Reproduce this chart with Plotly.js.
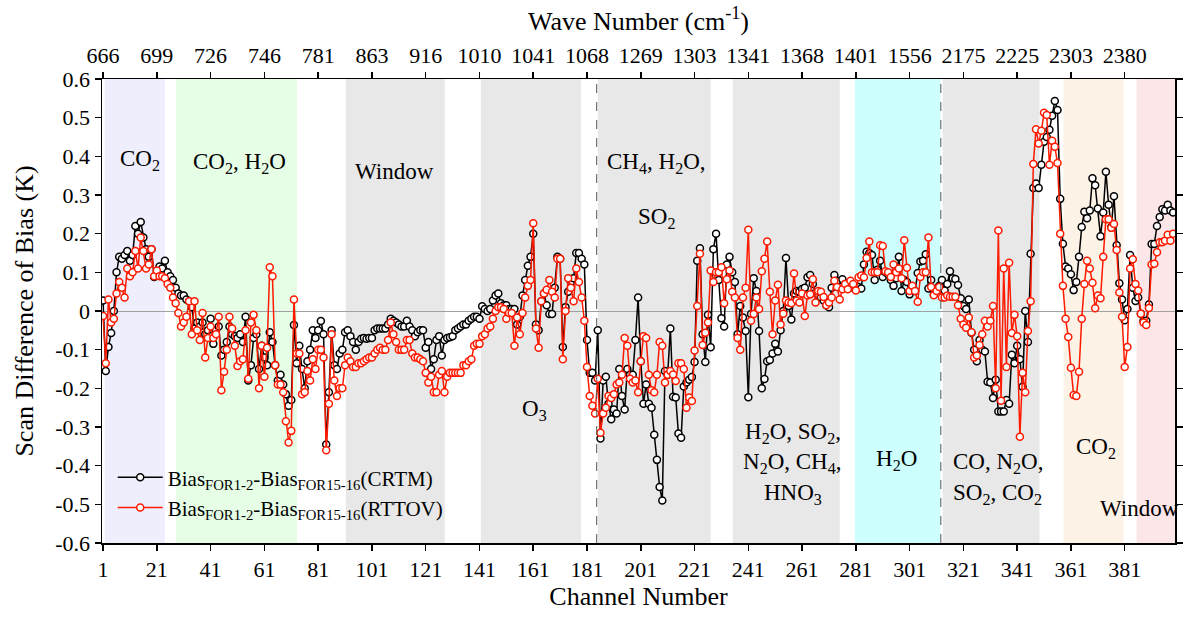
<!DOCTYPE html>
<html>
<head>
<meta charset="utf-8">
<script src="https://cdn.plot.ly/plotly-3.0.1.min.js"></script>
<style>
  html, body { margin: 0; padding: 0; background: #ffffff; }
  #chart { width: 1187px; height: 619px; }
</style>
</head>
<body>
<div id="chart"></div>
<script>
// Scan-angle bias difference per channel (K), FOR1-2 minus FOR15-16
const biasCRTM = [
  0.027,-0.155,-0.093,-0.057,0.0,0.10,0.14,0.135,0.145,0.155,
  0.13,0.145,0.22,0.2,0.23,0.19,0.16,0.14,0.16,0.088,
  0.10,0.115,0.11,0.13,0.1,0.09,0.08,0.06,0.045,0.04,
  0.04,0.03,0.025,0.01,-0.045,-0.03,-0.04,-0.03,-0.06,-0.05,
  -0.02,-0.085,-0.05,-0.04,-0.115,-0.1,-0.08,-0.04,-0.06,-0.065,
  -0.07,-0.06,-0.08,-0.015,-0.18,-0.14,-0.07,-0.06,-0.15,-0.09,
  -0.12,-0.14,-0.055,-0.08,-0.14,-0.18,-0.165,-0.19,-0.215,-0.245,
  -0.23,-0.036,-0.135,-0.09,-0.15,-0.2,-0.13,-0.1,-0.05,-0.07,
  -0.05,-0.026,-0.06,-0.345,-0.21,-0.05,-0.14,-0.15,-0.11,-0.1,
  -0.055,-0.05,-0.065,-0.08,-0.1,-0.08,-0.072,-0.07,-0.072,-0.07,
  -0.07,-0.05,-0.045,-0.045,-0.045,-0.045,-0.035,-0.02,-0.025,-0.03,
  -0.035,-0.04,-0.04,-0.025,-0.04,-0.05,-0.065,-0.055,-0.05,-0.05,
  -0.095,-0.08,-0.15,-0.125,-0.075,-0.065,-0.115,-0.075,-0.07,-0.068,
  -0.065,-0.05,-0.045,-0.04,-0.035,-0.035,-0.025,-0.02,-0.015,-0.015,
  -0.02,0.012,0.005,0.0,0.005,0.027,0.04,0.045,0.02,0.015,
  0.015,0.005,0.005,0.005,-0.035,-0.015,0.04,0.08,0.117,0.14,
  0.2,-0.035,-0.05,0.025,0.045,0.015,-0.008,-0.008,0.06,0.14,
  0.135,-0.093,0.01,0.05,0.075,0.085,0.15,0.15,0.135,0.12,
  -0.075,-0.16,-0.16,-0.18,-0.05,-0.33,-0.18,-0.17,-0.24,-0.28,
  -0.255,-0.265,-0.15,-0.22,-0.255,-0.15,-0.165,-0.165,-0.075,0.035,
  -0.13,-0.24,-0.19,-0.24,-0.25,-0.32,-0.385,-0.455,-0.49,-0.155,
  -0.165,-0.045,-0.222,-0.224,-0.317,-0.328,-0.195,-0.185,-0.178,-0.171,
  -0.132,0.13,0.162,-0.06,-0.132,-0.01,-0.094,0.16,0.2,0.08,
  -0.019,-0.04,0.12,0.14,0.1,0.075,-0.06,0.013,-0.017,-0.052,
  -0.223,-0.008,0.085,0.052,-0.052,-0.2,-0.176,-0.13,-0.127,-0.11,
  -0.085,-0.105,-0.05,0.0,0.137,0.013,-0.022,0.045,0.052,0.05,
  0.057,0.06,0.087,0.093,0.07,0.047,0.04,0.035,0.027,0.015,
  0.01,0.06,0.093,0.078,0.062,0.082,0.07,0.067,0.065,0.06,
  0.058,0.062,0.058,0.12,0.153,0.15,0.145,0.08,0.107,0.13,
  0.088,0.1,0.095,0.08,0.065,0.085,0.14,0.052,0.08,0.075,
  0.043,0.058,0.052,0.098,0.128,0.13,0.147,0.058,0.08,0.042,
  0.053,0.065,0.08,0.053,0.07,0.103,0.085,0.083,0.067,0.033,
  0.013,0.005,0.03,-0.056,-0.1,-0.13,-0.075,-0.1,-0.105,-0.183,
  -0.185,-0.225,-0.178,-0.26,-0.26,-0.26,-0.23,-0.24,-0.113,-0.135,
  -0.09,-0.125,-0.196,0.0,-0.08,0.148,0.318,0.33,0.318,0.378,
  0.438,0.45,0.469,0.505,0.543,0.52,0.29,0.174,0.115,0.11,
  0.095,0.054,0.075,0.14,0.217,0.257,0.24,0.26,0.343,0.325,
  0.265,0.193,0.255,0.36,0.275,0.217,0.297,0.17,0.072,0.03,
  -0.024,0.005,0.145,0.06,0.026,0.035,-0.007,-0.026,-0.025,0.017,
  0.173,0.173,0.22,0.243,0.263,0.26,0.275,0.26,0.255
];

const biasRTTOV = [
  -0.013,-0.135,0.03,-0.03,-0.02,0.045,0.075,0.06,0.035,0.11,
  0.09,0.10,0.155,0.11,0.19,0.155,0.11,0.12,0.16,0.09,
  0.105,0.09,0.09,0.085,0.07,0.06,0.035,0.02,-0.005,-0.04,
  -0.03,-0.015,0.025,-0.06,0.025,-0.05,-0.075,-0.005,-0.12,-0.07,
  -0.04,-0.07,-0.06,-0.015,-0.205,-0.157,-0.10,-0.015,-0.045,-0.09,
  -0.142,-0.13,-0.125,-0.05,-0.175,-0.03,-0.01,-0.05,-0.20,-0.09,
  -0.17,-0.095,0.113,0.09,-0.14,-0.19,-0.19,-0.21,-0.285,-0.34,
  -0.31,0.03,-0.11,-0.11,-0.215,-0.21,-0.155,-0.18,-0.125,-0.15,
  -0.1,-0.1,-0.12,-0.36,-0.24,-0.06,-0.18,-0.22,-0.2,-0.2,
  -0.14,-0.12,-0.13,-0.145,-0.145,-0.135,-0.135,-0.13,-0.125,-0.12,
  -0.12,-0.11,-0.1,-0.095,-0.1,-0.1,-0.075,-0.03,-0.06,-0.08,
  -0.1,-0.1,-0.1,-0.075,-0.075,-0.11,-0.12,-0.12,-0.125,-0.13,
  -0.16,-0.185,-0.17,-0.21,-0.21,-0.165,-0.155,-0.21,-0.17,-0.16,
  -0.16,-0.16,-0.16,-0.16,-0.14,-0.14,-0.13,-0.125,-0.09,-0.085,
  -0.085,-0.065,-0.06,-0.045,-0.04,-0.02,0.0,0.01,0.01,0.005,
  -0.02,-0.005,-0.005,-0.09,-0.017,-0.06,-0.005,0.035,0.065,0.08,
  0.227,-0.045,-0.095,0.025,0.045,0.055,0.08,0.05,0.035,0.135,
  0.135,-0.125,0.0,0.085,0.06,0.025,0.11,0.075,0.035,-0.025,
  -0.145,-0.22,-0.245,-0.265,-0.175,-0.315,-0.265,-0.25,-0.22,-0.225,
  -0.215,-0.19,-0.185,-0.165,-0.07,-0.09,-0.175,-0.185,-0.18,-0.21,
  -0.13,-0.065,-0.07,-0.165,-0.205,-0.21,-0.165,-0.08,-0.09,-0.185,
  -0.165,-0.155,-0.164,-0.181,-0.135,-0.135,-0.15,-0.25,-0.224,-0.233,
  -0.102,0.013,0.148,-0.088,-0.056,-0.03,0.105,0.075,0.1,0.1,
  0.113,0.02,0.082,0.105,0.05,0.035,-0.07,-0.1,0.035,0.06,
  0.21,-0.025,-0.008,0.035,0.005,0.103,0.135,0.18,0.05,-0.06,
  0.027,0.068,-0.035,-0.007,0.027,0.022,0.02,0.097,0.027,0.022,
  0.045,-0.013,0.04,0.043,0.082,0.022,0.052,0.05,0.036,0.015,
  0.022,0.035,0.078,0.062,0.03,0.056,0.07,0.056,0.078,0.07,
  0.053,0.087,0.092,0.087,0.137,0.18,0.1,0.1,0.1,0.17,
  0.168,0.103,0.1,0.088,0.12,0.1,0.11,0.085,0.183,0.112,
  0.052,0.065,0.052,0.024,0.088,0.1,0.1,0.19,0.062,0.041,
  0.052,0.062,0.035,0.035,0.04,0.037,0.037,0.037,0.015,-0.02,
  -0.035,-0.043,-0.017,-0.055,-0.12,-0.115,-0.088,-0.06,-0.025,-0.04,
  -0.025,0.013,-0.2,0.208,-0.232,0.11,-0.145,0.125,-0.057,-0.01,
  -0.065,-0.325,-0.16,-0.21,-0.052,0.025,0.38,0.47,0.433,0.466,
  0.513,0.507,0.378,0.44,0.425,0.383,0.2,0.065,-0.02,-0.067,
  -0.147,-0.217,-0.22,-0.157,-0.02,0.07,0.13,0.11,0.073,0.007,
  0.04,0.033,0.14,0.237,0.237,0.215,0.225,0.158,0.048,-0.015,
  -0.145,-0.093,0.11,0.134,0.07,0.053,-0.007,-0.03,-0.036,0.008,
  0.12,0.122,0.152,0.178,0.178,0.182,0.197,0.182,0.2
];

// channel index 1..N
const channels = biasCRTM.map((_, i) => i + 1);

// bottom axis ticks (channel number) and matching top axis labels (wave number, cm-1)
const channelTicks = [1, 21, 41, 61, 81, 101, 121, 141, 161, 181, 201, 221, 241, 261, 281, 301, 321, 341, 361, 381];
const waveNumberLabels = ['666', '699', '726', '746', '781', '863', '916', '1010', '1041', '1068',
                          '1269', '1303', '1341', '1368', '1401', '1556', '2175', '2225', '2303', '2380'];

const yTicks = [-0.6, -0.5, -0.4, -0.3, -0.2, -0.1, 0, 0.1, 0.2, 0.3, 0.4, 0.5, 0.6];
const yTickText = ['-0.6', '-0.5', '-0.4', '-0.3', '-0.2', '-0.1', '0', '0.1', '0.2', '0.3', '0.4', '0.5', '0.6'];

// absorber bands: start channel, end channel, fill colour
const bandStart = [1.6, 28.1, 91.3, 141.5, 185.0, 235.2, 280.6, 313.3, 358.2, 385.4];
const bandEnd   = [24.0, 73.1, 128.1, 178.8, 227.0, 275.0, 312.5, 349.3, 380.6, 400.0];
const bandFill  = ['#eeeefd', '#e6fde6', '#e8e8e8', '#e8e8e8', '#e8e8e8', '#e8e8e8',
                   '#ccfffe', '#e8e8e8', '#fdf2e6', '#fde6e8'];

// band dividers
const dividerChannels = [184.6, 312.6];

// band labels: channel, value, text
const labelX = [14.8, 51.9, 109.5, 161.6, 207, 207, 257.5, 257.5, 257.5, 296.2, 333.7, 333.7, 370.5, 386.5];
const labelY = [0.39, 0.383, 0.36, -0.256, 0.383, 0.24, -0.316, -0.394, -0.474, -0.386, -0.394, -0.472, -0.355, -0.51];
const labelText = ['CO<sub>2</sub>', 'CO<sub>2</sub>, H<sub>2</sub>O', 'Window', 'O<sub>3</sub>',
                   'CH<sub>4</sub>, H<sub>2</sub>O,', 'SO<sub>2</sub>',
                   'H<sub>2</sub>O, SO<sub>2</sub>,', 'N<sub>2</sub>O, CH<sub>4</sub>,', 'HNO<sub>3</sub>',
                   'H<sub>2</sub>O', 'CO, N<sub>2</sub>O,', 'SO<sub>2</sub>, CO<sub>2</sub>',
                   'CO<sub>2</sub>', 'Window'];

const serif = 'Liberation Serif, Times New Roman, serif';

const shapes = [];
for (let i = 0; i < bandStart.length; i++) {
  shapes.push({
    type: 'rect', xref: 'x', yref: 'paper', layer: 'below',
    x0: bandStart[i], x1: bandEnd[i], y0: 0, y1: 1,
    fillcolor: bandFill[i], line: { width: 0 }
  });
}
dividerChannels.forEach(c => shapes.push({
  type: 'line', xref: 'x', yref: 'paper', layer: 'above',
  x0: c, x1: c, y0: 0, y1: 1,
  line: { color: '#555555', width: 1, dash: 'dash' }
}));

const annotations = labelText.map((t, i) => ({
  x: labelX[i], y: labelY[i], xref: 'x', yref: 'y', text: t, showarrow: false,
  font: { family: serif, size: 23, color: '#000000' }
}));

const traces = [
  {
    x: channels, y: biasCRTM, type: 'scatter', mode: 'lines+markers',
    name: 'Bias<sub>FOR1-2</sub>-Bias<sub>FOR15-16</sub>(CRTM)',
    line: { color: '#000000', width: 1.5 },
    marker: { symbol: 'circle', size: 7, color: '#ffffff', line: { color: '#000000', width: 1.5 } }
  },
  {
    x: channels, y: biasRTTOV, type: 'scatter', mode: 'lines+markers',
    name: 'Bias<sub>FOR1-2</sub>-Bias<sub>FOR15-16</sub>(RTTOV)',
    line: { color: '#ff1a00', width: 1.5 },
    marker: { symbol: 'circle', size: 7, color: '#ffffff', line: { color: '#ff1a00', width: 1.5 } }
  },
  {
    // carries the top (wave number) axis
    x: [channelTicks[0]], y: [null], xaxis: 'x2', yaxis: 'y', type: 'scatter', mode: 'lines',
    showlegend: false, hoverinfo: 'skip'
  }
];

const xRange = [0.6, 399.7];
const tickFont = { family: serif, size: 22, color: '#000000' };
const titleFont = { family: serif, size: 26, color: '#000000' };

const layout = {
  width: 1187, height: 619,
  margin: { l: 102, r: 12, t: 79, b: 76 },
  paper_bgcolor: '#ffffff', plot_bgcolor: '#ffffff',
  font: { family: serif, size: 20, color: '#000000' },
  showlegend: true,
  legend: {
    x: 0.01, y: 0.185, xanchor: 'left', yanchor: 'top',
    bgcolor: 'rgba(0,0,0,0)', borderwidth: 0,
    font: { family: serif, size: 21, color: '#000000' },
    itemwidth: 45, tracegroupgap: 0
  },
  xaxis: {
    range: xRange, tickmode: 'array', tickvals: channelTicks,
    ticks: 'outside', ticklen: 6, tickwidth: 1.5, tickcolor: '#000000',
    showline: true, linecolor: '#000000', linewidth: 1.5,
    showgrid: false, zeroline: false,
    tickfont: tickFont,
    title: { text: 'Channel Number', font: titleFont, standoff: 2 }
  },
  xaxis2: {
    overlaying: 'x', side: 'top', range: xRange,
    tickmode: 'array', tickvals: channelTicks, ticktext: waveNumberLabels,
    ticks: 'outside', ticklen: 6, tickwidth: 1.5, tickcolor: '#000000',
    showline: true, linecolor: '#000000', linewidth: 1.5,
    showgrid: false, zeroline: false,
    tickfont: tickFont,
    title: { text: 'Wave Number (cm<sup>-1</sup>)', font: titleFont, standoff: 4 }
  },
  yaxis: {
    range: [-0.6, 0.6], tickmode: 'array', tickvals: yTicks, ticktext: yTickText,
    ticks: 'outside', ticklen: 6, tickwidth: 1.5, tickcolor: '#000000',
    showline: true, linecolor: '#000000', linewidth: 1.5, mirror: 'ticks',
    showgrid: false, zeroline: true, zerolinecolor: '#a0a0a0', zerolinewidth: 1,
    tickfont: tickFont,
    title: { text: 'Scan Difference of Bias (K)', font: titleFont, standoff: 14 }
  },
  shapes: shapes,
  annotations: annotations
};

Plotly.newPlot('chart', traces, layout, { displayModeBar: false, staticPlot: true });
</script>
</body>
</html>
